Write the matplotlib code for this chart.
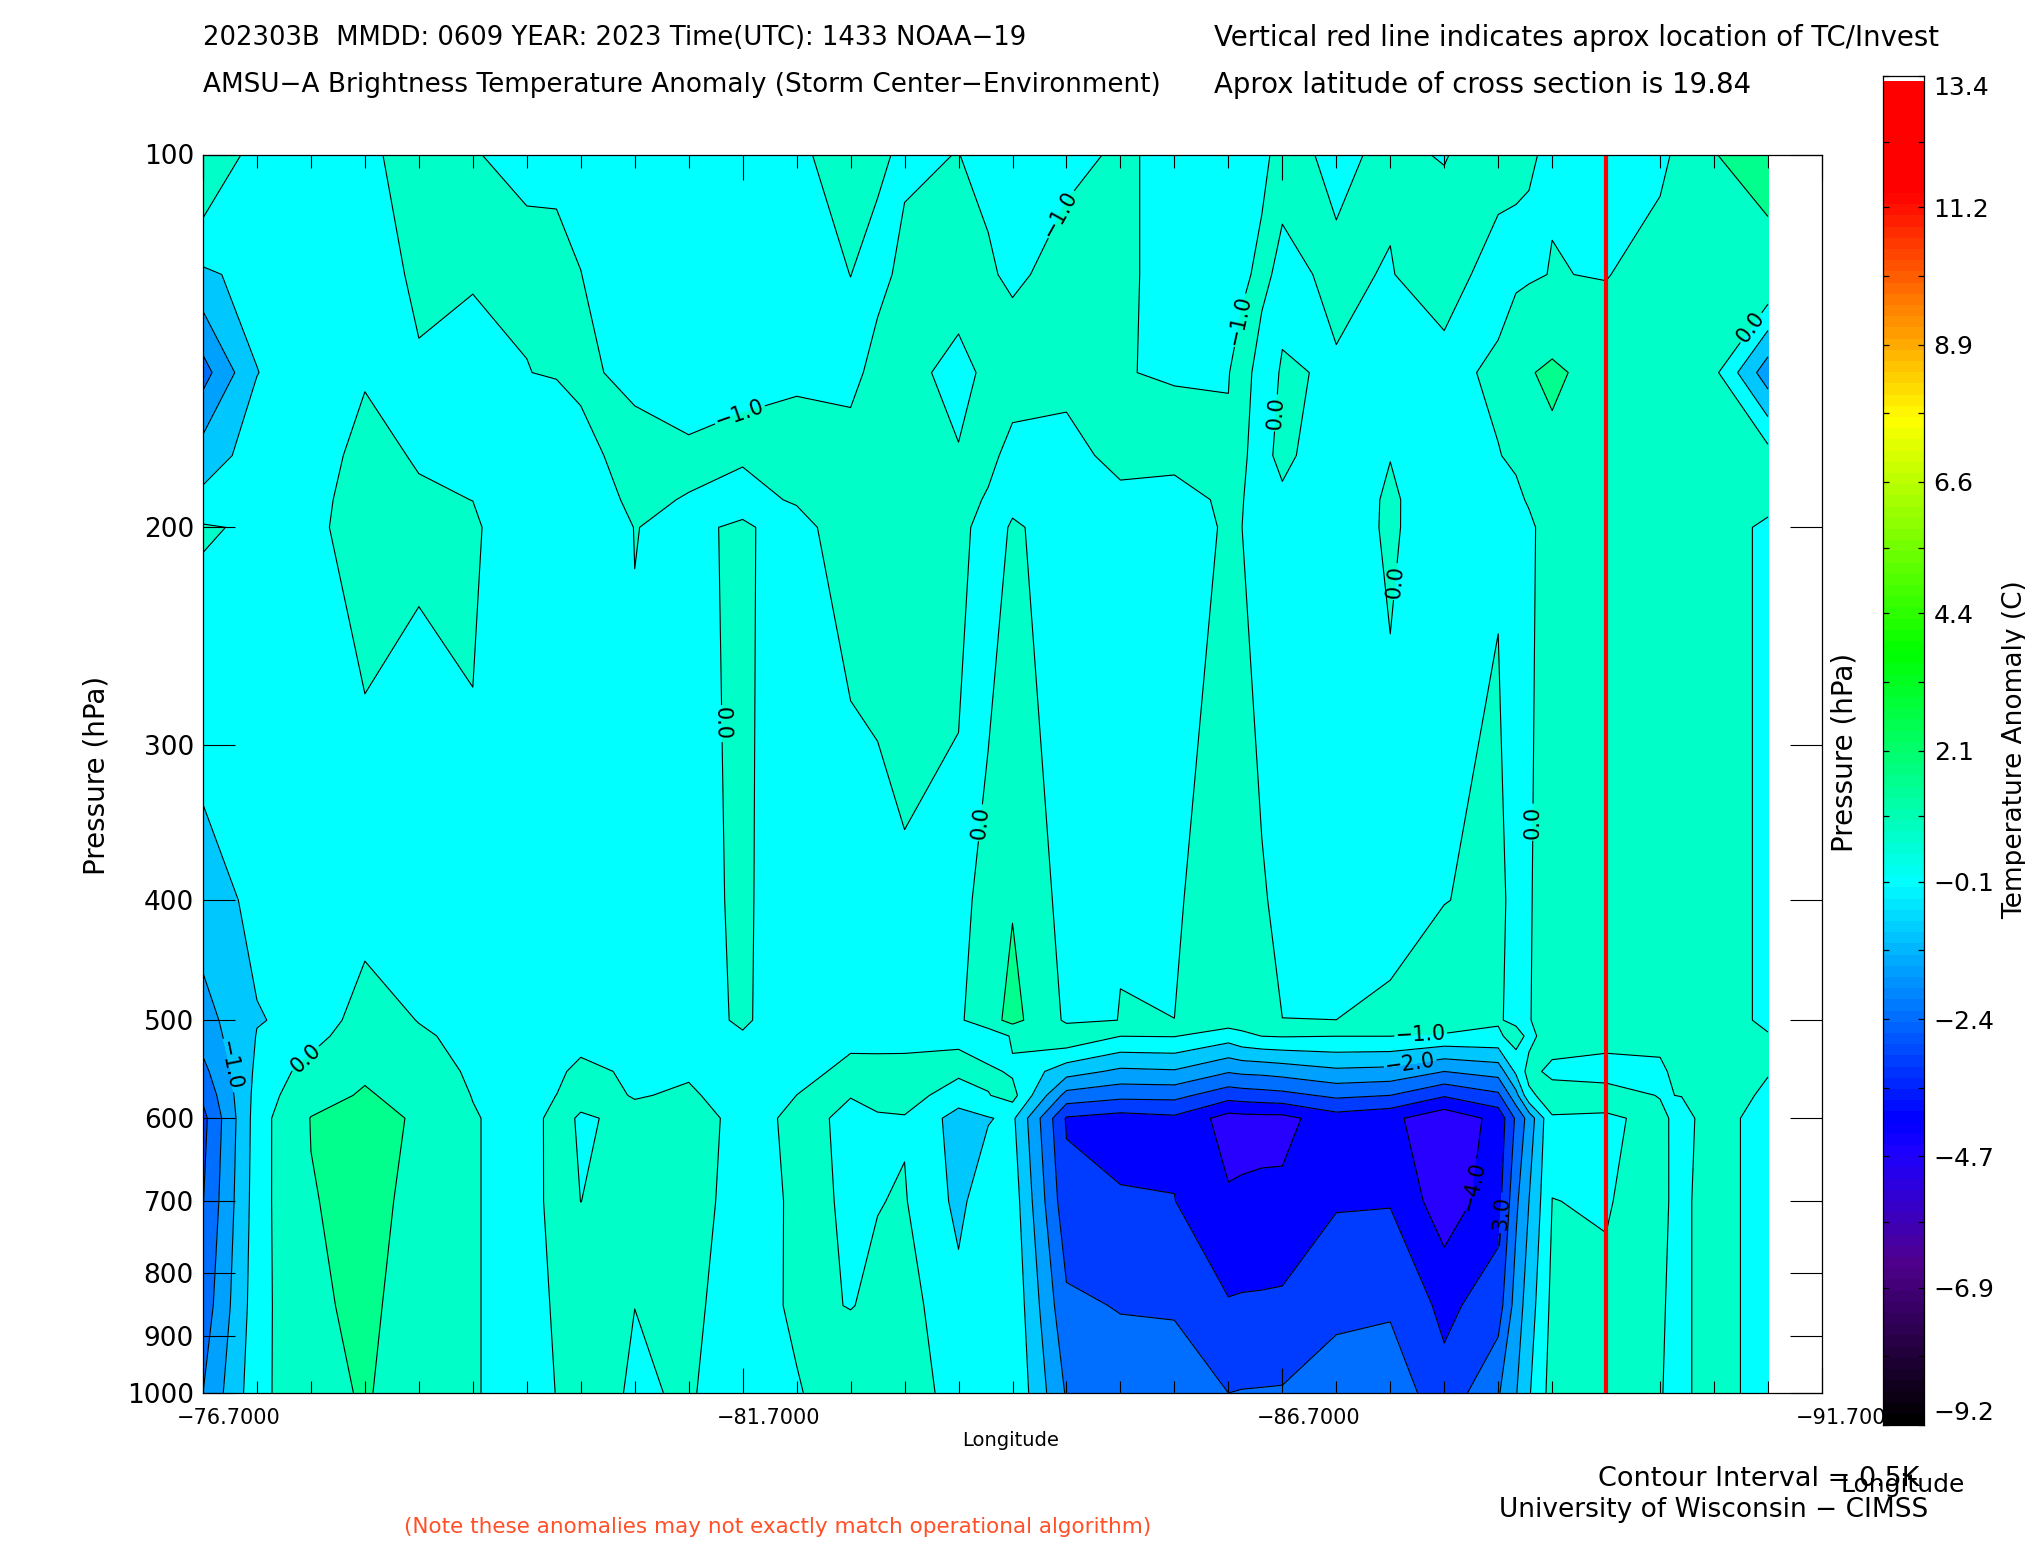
import matplotlib
matplotlib.use("Agg")
import matplotlib.pyplot as plt
import numpy as np
from matplotlib.colors import LinearSegmentedColormap
from matplotlib.transforms import ScaledTranslation

plt.rcParams["font.family"] = ["DejaVu Sans"]

W, H = 2025, 1550

pressure = [100, 125, 150, 175, 190, 200, 400, 500, 515, 550, 575, 600, 700, 850, 1000]
lons = [-76.7, -77.2, -77.7, -78.2, -78.7, -79.2, -79.7, -79.975, -80.2, -80.7, -81.2, -81.7,
        -82.2, -82.7, -82.95, -83.2, -83.7, -83.975, -84.2, -84.7, -85.2, -85.7, -86.2, -86.325, -86.51, -86.7,
        -87.2, -87.7, -88.2, -88.7, -88.865, -88.985, -89.2, -89.7, -90.2, -90.4, -90.7, -91.2]

# anomaly, one list per longitude, top (100 hPa) to bottom (1000 hPa)
c00 = [.65, -.58, -1.7, -.76, -.37, .05, -.69, -1.2, -1.3, -1.64, -1.9, -2.15, -2.02, -1.8, -1.5]
c01 = [-.27, -.35, -.51, -.28, -.13, -.07, -.4, -.52, -.48, -.4, -.33, -.27, -.25, -.22, -.17]
c02 = [-.2, -.2, -.25, -.18, -.14, -.13, -.4, -.41, -.21, .22, .45, .72, .67, .55, .44]
c03 = [-.1, -.28, -.036, .12, .2, .25, -.31, .3, .38, .6, .77, .93, .86, .88, .77]
c04 = [.2, .1, -.054, -.035, .05, .1, -.37, -.02, .08, .3, .46, .62, .56, .32, .3]
c05 = [.003, .05, -.2, -.085, -.003, .06, -.08, -.2, -.16, -.09, -.02, .05, .05, .05, .05]
c06 = [-.015, .02, -.0033, -.15, -.24, -.29, -.3, -.3, -.29, -.25, -.24, -.28, -.28, -.28, -.28]
c06b = [-.01, .012, .015, -.17, -.28, -.34, -.3, -.22, -.24, -.22, .005, .22, .215, .08, .013]
c07 = [-.05, .002, .05, -.075, -.28, -.4, -.3, -.15, -.45, .3, .2, -.073, -.003, .3, .19]
c08 = [-.1, -.1, -.067, .1, .1, .01, -.08, -.3, -.27, -.2, -.03, .14, .2, .002, -.05]
c09 = [-.1, -.2, -.45, .15, -.03, -.1, -.2, -.3, -.2, -.05, .06, .17, .25, .15, .044]
c10 = [-.1, -.1, -.065, .07, -.2, .08, .1, .1, -.06, -.25, -.2, -.12, -.25, -.33, -.25]
c11 = [-.037, -.1, -.08, .2, .067, -.25, -.38, -.44, -.25, -.066, .001, .066, .08, .11, -.05]
c12 = [.09, .002, -.08, .11, .25, .4, -.46, -.106, -.048, .05, .006, -.043, -.035, -.018, .35]
c12b = [.04, -.07, .09, .2, .25, .35, -.26, -.15, -.09, .09, .11, -.04, -.015, .09, .24]
c13 = [-.04, .06, .13, .35, .3, .3, -.07, -.2, -.125, .13, .215, -.038, .034, .2, .13]
c14 = [.005, .2, -.13, .025, .2, .3, -.245, -.1, -.06, .1, -.25, -.7, -.62, -.36, -.1]
c14b = [-.1, .054, .09, .14, -.056, -.43, .29, .43, -.4, .1, -.02, -.53, -.2, -.13, -.08]
c15 = [-.2, -.08, .26, -.17, -.2, .1, .65, .91, .067, -.07, .17, -.4, -.22, -.105, -.05]
c16 = [-.1, .16, .2, -.22, -.25, -.33, -.23, -.1, .4, -.79, -1.68, -2.55, -2.35, -1.9, -1.55]
c17 = [.05, .05, .0135, .2, -.16, -.2, -.017, .006, .005, -1.1, -1.86, -2.7, -2.45, -2.03, -1.72]
c18 = [-.09, -.09, -.03, .157, -.2, -.2, -.03, .0005, .02, -1.05, -1.85, -2.6, -2.49, -2.05, -1.75]
c19 = [-.1, -.1, -.01, .03, .1, .05, .14, .27, -.27, -1.46, -2.3, -3.2, -2.94, -2.46, -2.0]
c19a = [-.08, -.05, .1, .03, .01, .001, .1, .2, -.1, -1.4, -2.25, -3.17, -2.92, -2.44, -1.98]
c19b = [-.06, .06, -.1, -.08, -.1, -.1, .02, .1, .005, -1.37, -2.2, -3.15, -2.9, -2.43, -1.97]
c20 = [.09, -.065, .02, .07, -.05, -.16, -.05, .001, .03, -1.3, -2.15, -3.15, -2.89, -2.41, -1.96]
c21 = [-.06, .05, -.02, -.2, -.25, -.3, -.3, .001, .005, -1.1, -1.9, -2.72, -2.55, -2.1, -1.8]
c22 = [.06, -.019, -.2, -.01, .06, .08, -.2, .1, .005, -1.15, -2.0, -2.88, -2.53, -2.08, -1.65]
c23 = [-.02, .2, -.15, -.2, -.25, -.34, -.02, .5, -.1, -1.5, -2.45, -3.35, -3.3, -2.62, -2.34]
c24 = [.2, -.2, .1, -.019, -.05, -.06, .15, .06, -.1, -1.3, -2.1, -2.85, -2.7, -2.25, -1.55]
c24b = [.1, -.14, .6, .08, -.1, -.3, -.2, -.15, .25, -.4, -1.17, -1.92, -1.6, -1.28, -1.03]
c24c = [.03, -.07, .66, .25, .05, -.1, -.04, -.01, -.15, .18, -.12, -1.3, -1.0, -.75, -.55]
c25 = [-.05, .02, .81, .57, .4, .25, .25, .1, .3, -.15, .28, -.05, .002, .12, .2]
c26 = [-.2, -.03, .44, .35, .3, .3, .3, .3, .17, -.18, .19, -.06, -.01, .023, .05]
c27 = [-.16, .3, .2, .2, .15, .1, .1, .3, .15, -.1, -.02, .1, .067, .033, .015]
c27b = [.18, .3, .17, .2, .17, .12, .12, .3, .3, .2, .01, -.15, -.1, -.1, -.1]
c28 = [.69, .3, .12, .2, .2, .147, .147, .147, .2, .25, .3, .22, .22, .22, .22]
c29 = [.85, .56, -1.3, .2, .1, -.06, -.06, -.06, .02, .03, -.1, -.23, -.23, -.23, -.23]

columns = [c00, c01, c02, c03, c04, c05, c06, c06b, c07, c08, c09, c10, c11, c12, c12b, c13, c14, c14b,
           c15, c16, c17, c18, c19, c19a, c19b, c20, c21, c22, c23, c24, c24b, c24c, c25, c26, c27, c27b, c28, c29]

levels = [-12, -3, -2.5, -2, -1.5, -1, -.5, 0, .7, 14]
band_colors = ["#2800ff", "#0000ff", "#003cff", "#006eff", "#00a0ff", "#00c8ff", "#00ffff", "#00ffc8", "#00ff8c"]

# contour labels as printed: lon, pressure, text
label_lon = [-81.66, -84.70, -86.31, -81.56, -83.85, -88.99, -86.68, -87.70, -90.94, -77.61, -76.94, -87.98, -87.88, -88.34, -88.74]
label_p = [161, 112.3, 136.1, 288, 346, 346, 161.8, 221, 135.8, 532, 544, 509, 538, 678, 725]
label_text = ["\u22121.0", "\u22121.0", "\u22121.0", "0.0", "0.0", "0.0", "0.0", "0.0", "0.0", "0.0",
              "\u22121.0", "\u22121.0", "\u22122.0", "\u22124.0", "\u22123.0"]

bar_ticks = [-9.2, -6.9, -4.7, -2.4, -0.1, 2.1, 4.4, 6.6, 8.9, 11.2, 13.4]
bar_stops = [-9.2, -6.5, -4.7, -4.1, -0.1, 3.8, 7.76, 11.6, 13.4]
bar_colors = ["#000000", "#500090", "#1e00ff", "#0000ff", "#00ffff", "#00ff00", "#ffff00", "#ff0000", "#ff0000"]

storm_lon = -89.7
p_ticks = [100, 200, 300, 400, 500, 600, 700, 800, 900, 1000]
lon_major = [-76.7, -81.7, -86.7, -91.7]
lon_minor = [-76.7 - .5 * i for i in range(31)]

fig = plt.figure(figsize=(W / 100, H / 100), dpi=100, facecolor="white")


def axes_px(x0, y0, x1, y1):
    return fig.add_axes([x0 / W, 1 - y1 / H, (x1 - x0) / W, (y1 - y0) / H])


def label(x, y, s, size=19, **kw):
    kw.setdefault("va", "center")
    return fig.text(x / W, 1 - y / H, s, fontsize=size, **kw)


ax = axes_px(203, 154.5, 1822, 1393)
logp = np.log10(pressure)
Z = np.array(columns).T
ax.contourf(lons, logp, Z, levels=levels, colors=band_colors, antialiased=False)
cs = ax.contour(lons, logp, Z, levels=levels[1:-1], colors="black", linewidths=0.8, linestyles="solid")

for lon, p, txt in zip(label_lon, label_p, label_text):
    cs.clabel(manual=[(lon, np.log10(p))], inline=True, inline_spacing=2,
              fontsize=15, fmt={lev: txt for lev in levels[1:-1]})
for t in cs.labelTexts:
    t.set_color("black")

ax.axvline(storm_lon, color="#ff0000", lw=3)
ax.set_xlim(-76.7, -91.7)
ax.set_ylim(3, 2)
ax.set_xticks(lon_major)
ax.set_xticklabels([f"{v:.4f}".replace("-", "\u2212") for v in lon_major], fontsize=15)
ax.set_xticks(lon_minor, minor=True)
ax.set_yticks(np.log10(p_ticks))
ax.set_yticklabels([str(p) for p in p_ticks], fontsize=19)
ax.tick_params(axis="x", which="major", direction="in", length=18, width=0.8, top=True, pad=11)
ax.tick_params(axis="x", which="minor", direction="in", length=9, width=0.8, top=True)
ax.tick_params(axis="y", direction="in", length=23, width=0.8, right=True, pad=6.5)
# the longitude labels sit to the right of their ticks
shift = ScaledTranslation(0.26, 0, fig.dpi_scale_trans)
for t in ax.get_xticklabels():
    t.set_transform(t.get_transform() + shift)
for s in ax.spines.values():
    s.set_linewidth(0.9)

# colour bar
cb = axes_px(1883, 76, 1924, 1425)
ramp = LinearSegmentedColormap.from_list(
    "ramp", [((v - bar_stops[0]) / (bar_stops[-1] - bar_stops[0]), c) for v, c in zip(bar_stops, bar_colors)], N=120)
vals = np.linspace(bar_stops[0], 13.3, 120).reshape(-1, 1)
cb.imshow(vals, aspect="auto", cmap=ramp, vmin=bar_stops[0], vmax=bar_stops[-1], origin="lower",
          extent=[0, 1, bar_stops[0], 13.3], interpolation="nearest")
cb.set_ylim(bar_stops[0], bar_stops[-1])
cb.set_xlim(0, 1)
cb.set_xticks([])
cb.set_yticks(bar_ticks)
cb.set_yticklabels([f"{v:.1f}".replace("-", "\u2212") for v in bar_ticks], fontsize=18)
cb.set_yticks([(a + b) / 2 for a, b in zip(bar_ticks[:-1], bar_ticks[1:])], minor=True)
cb.yaxis.tick_right()
cb.tick_params(axis="y", which="both", direction="in", left=True, right=True, length=4, width=0.9, pad=7)
cb.get_yticklabels()[0].set_va("bottom")
cb.get_yticklabels()[-1].set_va("top")
for s in cb.spines.values():
    s.set_linewidth(0.9)

label(203, 38, "202303B  MMDD: 0609 YEAR: 2023 Time(UTC): 1433 NOAA\u221219", size=18.6)
label(203, 85, "AMSU\u2212A Brightness Temperature Anomaly (Storm Center\u2212Environment)", size=18.9)
label(1214, 38, "Vertical red line indicates aprox location of TC/Invest", size=19.8)
label(1214, 85, "Aprox latitude of cross section is 19.84", size=19.9)
label(97, 775, "Pressure (hPa)", size=20, rotation=90, ha="center")
label(1844, 752, "Pressure (hPa)", size=20, rotation=90, ha="center")
label(2015, 750, "Temperature Anomaly (C)", rotation=90, ha="center")
label(1011, 1441, "Longitude", size=14, ha="center")
label(1903, 1485, "Longitude", size=18, ha="center")
label(1920, 1479, "Contour Interval = 0.5K", size=19.5, ha="right")
label(1928, 1510, "University of Wisconsin \u2212 CIMSS", ha="right")
label(778, 1527, "(Note these anomalies may not exactly match operational algorithm)", size=15.5,
      ha="center", color="#ff5028")

fig.savefig("out.png", dpi=100)
